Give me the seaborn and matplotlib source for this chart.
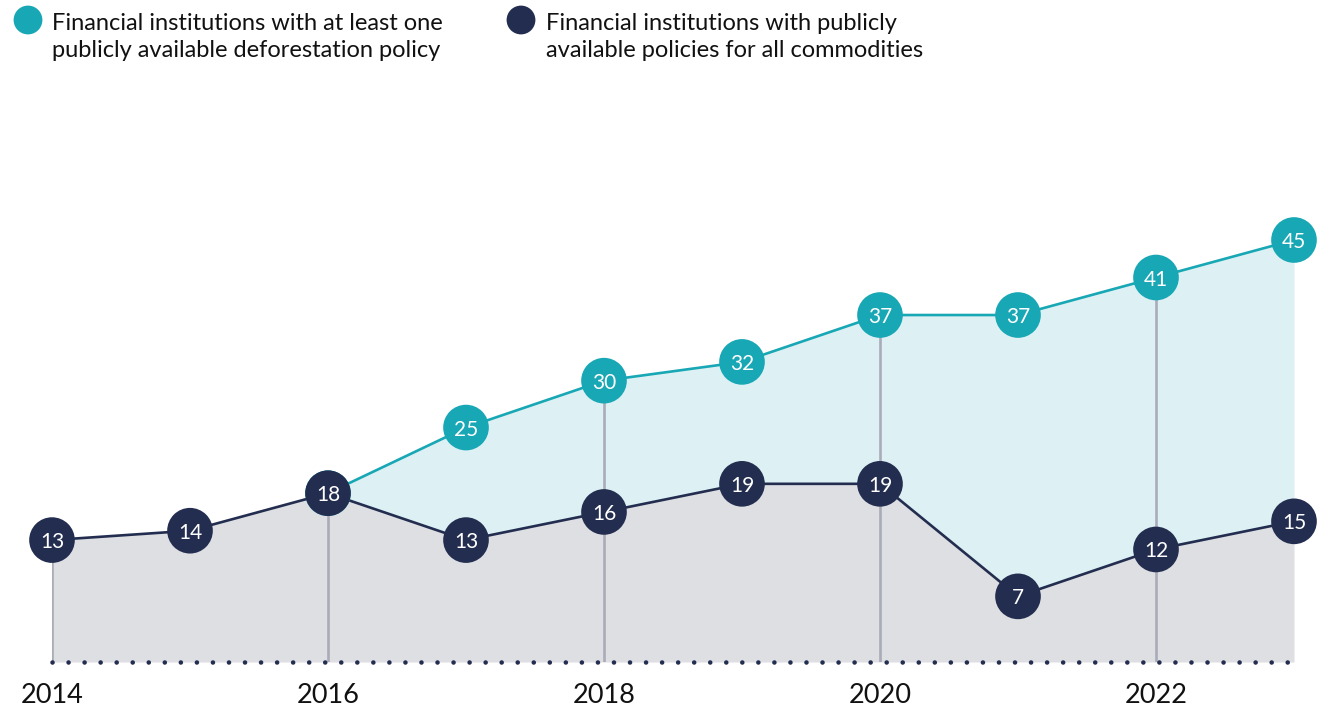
import matplotlib
matplotlib.use("Agg")
import matplotlib.pyplot as plt
import seaborn as sns
import pandas as pd

# data
years = [2014, 2015, 2016, 2017, 2018, 2019, 2020, 2021, 2022, 2023]
all_commodities = [13, 14, 18, 13, 16, 19, 19, 7, 12, 15]
policy_years = [2016, 2017, 2018, 2019, 2020, 2021, 2022, 2023]
at_least_one = [18, 25, 30, 32, 37, 37, 41, 45]
tick_years = [2014, 2016, 2018, 2020, 2022]

label_teal = "Financial institutions with at least one\npublicly available deforestation policy"
label_navy = "Financial institutions with publicly\navailable policies for all commodities"

TEAL = "#18A7B5"
NAVY = "#232D4F"
TEAL_FILL = "#DDF1F4"
GREY_FILL = "#DEDFE3"
VLINE = "#A9ABB9"

sns.set_theme(style="white")
plt.rcParams["font.family"] = ["Lato", "DejaVu Sans"]

df_navy = pd.DataFrame({"year": years, "value": all_commodities})
df_teal = pd.DataFrame({"year": policy_years, "value": at_least_one})

fig = plt.figure(figsize=(13.24, 7.06), dpi=100)
ax = fig.add_axes([52 / 1324, 44 / 706, 1242 / 1324, 422 / 706])
ax.set_xlim(2014, 2023)
ax.set_ylim(0, 45)
ax.axis("off")

# fills
navy_on_teal = df_navy.set_index("year").loc[policy_years, "value"].values
ax.fill_between(years, 0, all_commodities, color=GREY_FILL, lw=0, zorder=1)
ax.fill_between(policy_years, navy_on_teal, at_least_one, color=TEAL_FILL, lw=0, zorder=1)

# vertical guide lines up to the top point of each tick year
top = {y: v for y, v in zip(years, all_commodities)}
top.update({y: v for y, v in zip(policy_years, at_least_one)})
ax.vlines(tick_years, 0, [top[y] for y in tick_years], color=VLINE, lw=1.9, zorder=2)

# dotted baseline
ax.plot([2014, 2023], [0, 0], color=NAVY, lw=3.3, linestyle=(0, (0.01, 3.49)),
        dash_capstyle="round", clip_on=False, zorder=3)

# lines
sns.lineplot(data=df_teal, x="year", y="value", color=TEAL, lw=1.9, ax=ax, zorder=4)
sns.lineplot(data=df_navy, x="year", y="value", color=NAVY, lw=1.9, ax=ax, zorder=4)

# markers
sns.scatterplot(data=df_teal, x="year", y="value", color=TEAL, s=1080, edgecolor="none",
                ax=ax, zorder=5, clip_on=False)
sns.scatterplot(data=df_navy, x="year", y="value", color=NAVY, s=1080, edgecolor="none",
                ax=ax, zorder=5, clip_on=False)

for x, v in zip(policy_years[1:], at_least_one[1:]):
    ax.text(x, v, str(v), color="white", ha="center", va="center_baseline", fontsize=15, zorder=6)
for x, v in zip(years, all_commodities):
    ax.text(x, v, str(v), color="white", ha="center", va="center_baseline", fontsize=15, zorder=6)

# year labels
for y in tick_years:
    ax.text(y, -3.6, str(y), ha="center", va="center", fontsize=19.5, color="#111111")

ax.set_xlabel("")
ax.set_ylabel("")

# legend
fig.text(52 / 1324, 1 - 37 / 706, label_teal, fontsize=17, color="#111111",
         va="center", ha="left", linespacing=1.3)
fig.text(546 / 1324, 1 - 37 / 706, label_navy, fontsize=17, color="#111111",
         va="center", ha="left", linespacing=1.3)
lax = fig.add_axes([0, 0, 1, 1])
lax.set_xlim(0, 1324)
lax.set_ylim(706, 0)
lax.axis("off")
lax.scatter([28, 521], [20, 20], s=430, color=[TEAL, NAVY], edgecolor="none")

fig.savefig("out.png", dpi=100)
